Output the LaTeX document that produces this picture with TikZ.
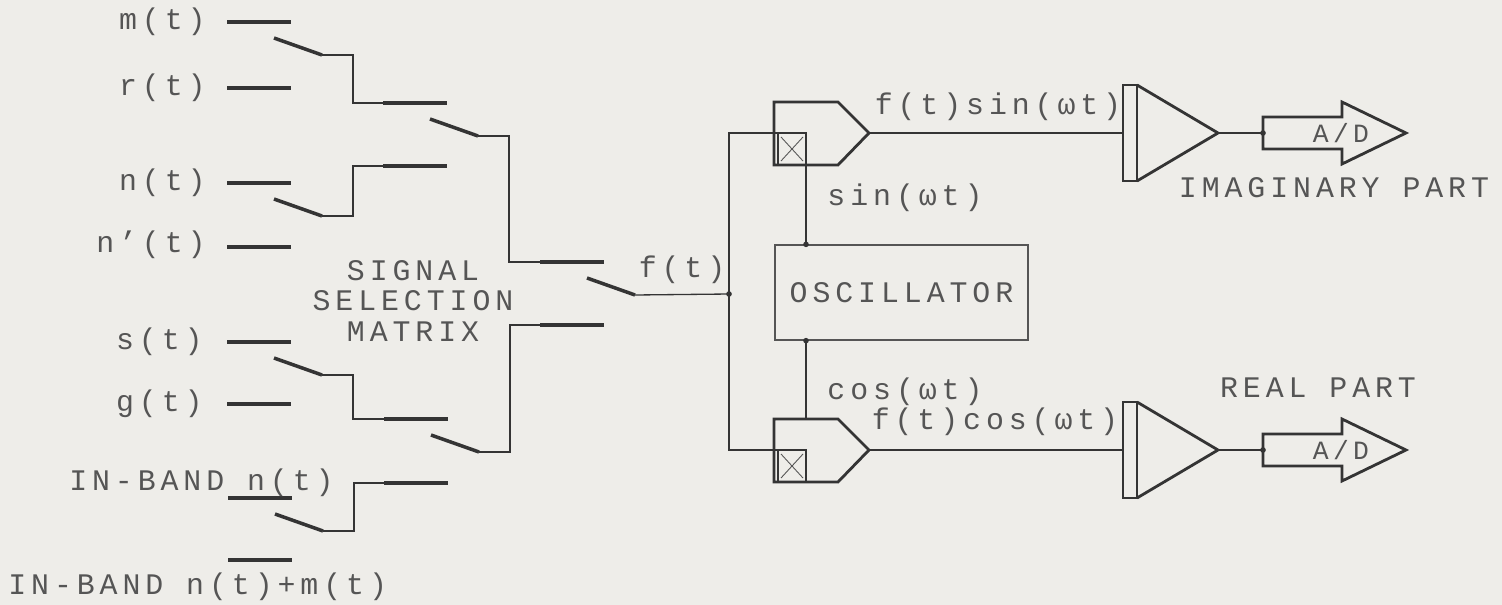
\documentclass[tikz,border=0pt]{standalone}
\usepackage{fontspec}
\usepackage{tikz}
\usetikzlibrary{calc}
\newfontfamily\plotterFont[LetterSpace=16.5]{Liberation Mono}
\definecolor{paperColor}{RGB}{238,237,233}
\definecolor{inkColor}{RGB}{52,52,52}
\definecolor{labelColor}{RGB}{85,85,85}
\tikzstyle{plotter} = [x = 0.02cm, y = -0.02cm]
\tikzstyle{wire} = [color=inkColor, line width=0.75pt]
\tikzstyle{contactLine} = [color=inkColor, line width=2pt]
\tikzstyle{blockLine} = [color=inkColor, line width=1.6pt, line join=miter]
\tikzstyle{crossLine} = [color=labelColor, line width=0.5pt]
\tikzstyle{plotText} = [color=labelColor, inner sep=0pt, font=\plotterFont\fontsize{17}{17.6}\selectfont]
\tikzstyle{junction} = [circle, fill=inkColor, inner sep=0pt, minimum size=3.2pt]
\tikzstyle{oscStyle} = [draw=inkColor, line width=0.75pt, minimum width=5.06cm, minimum height=1.9cm, plotText]
\newcommand{\contact}[3]{\draw [contactLine] (#2, #3) coordinate (#1-w) -- + (64, 0) coordinate (#1-e);}
\newcommand{\blade}[2]{\draw [contactLine] ($(#2-e) + (-17, 16)$) -- + (48, 17) coordinate (#1);}
\newcommand{\mixer}[3]{
  \draw [blockLine] (#2, #3 - 31) -- + (64, 0) -- + (95, 31) -- + (64, 63) -- + (0, 63) -- cycle;
  \draw [wire] (#2 + 4, #3) rectangle + (28, 32);
  \draw [crossLine] (#2 + 7, #3 + 4) -- + (22, 24);
  \draw [crossLine] (#2 + 7, #3 + 28) -- + (22, -24);
  \coordinate (#1 in) at (#2 + 32, #3);
  \coordinate (#1 out) at (#2 + 95, #3);
  \coordinate (#1 top) at (#2 + 32, #3 - 31);
  \coordinate (#1 bottom) at (#2 + 32, #3 + 32);
}
\newcommand{\amplifier}[3]{
  \draw [blockLine] (#2, #3 - 48) rectangle + (14, 96);
  \draw [blockLine] (#2 + 14, #3 - 48) -- (#2 + 95, #3) -- (#2 + 14, #3 + 48);
  \coordinate (#1 in) at (#2, #3);
  \coordinate (#1 out) at (#2 + 95, #3);
}
\newcommand{\converter}[3]{
  \draw [blockLine] (#2, #3 - 16) -- + (79, 0) -- + (79, -15) -- + (143, 16) -- + (79, 47) -- + (79, 32) -- + (0, 32) -- cycle;
  \node [plotText, font=\plotterFont\fontsize{15}{15}\selectfont] (#1 label) at (#2 + 78, #3) {A/D};
  \coordinate (#1 in) at (#2, #3);
}

\begin{document}
\begin{tikzpicture}[plotter]
  \fill [paperColor] (0, 0) rectangle (1502, 605);
  \useasboundingbox (0, 0) rectangle (1502, 605);

  % inputs
  \contact{contactM}{227}{22}
  \contact{contactR}{227}{88}
  \contact{contactN}{227}{183}
  \contact{contactNp}{227}{247}
  \contact{contactS}{227}{342}
  \contact{contactG}{227}{404}
  \contact{contactIb}{228}{498}
  \contact{contactIbm}{228}{560}
  \node [plotText, anchor=east] (labelM) at (206, 22) {m(t)};
  \node [plotText, anchor=east] (labelR) at (206, 88) {r(t)};
  \node [plotText, anchor=east] (labelN) at (206, 183) {n(t)};
  \node [plotText, anchor=east] (labelNp) at (206, 245) {n’(t)};
  \node [plotText, anchor=east] (labelS) at (203, 342) {s(t)};
  \node [plotText, anchor=east] (labelG) at (203, 404) {g(t)};
  \node [plotText, anchor=east] (labelIb) at (334, 483) {IN-BAND n(t)};
  \node [plotText, anchor=west] (labelIbm) at (8, 587) {IN-BAND n(t)+m(t)};

  % selection matrix
  \contact{contactE}{383}{103}
  \contact{contactF}{383}{166}
  \contact{contactH}{384}{419}
  \contact{contactK}{384}{483}
  \contact{contactP}{540}{262}
  \contact{contactQ}{540}{325}
  \blade{bladeA}{contactM}
  \blade{bladeB}{contactN}
  \blade{bladeC}{contactS}
  \blade{bladeD}{contactIb}
  \blade{bladeE}{contactE}
  \blade{bladeF}{contactH}
  \blade{bladeG}{contactP}
  \draw [wire] (bladeA) -- ++ (31, 0) |- (contactE-w);
  \draw [wire] (bladeB) -- ++ (31, 0) |- (contactF-w);
  \draw [wire] (bladeC) -- ++ (31, 0) |- (contactH-w);
  \draw [wire] (bladeD) -- ++ (31, 0) |- (contactK-w);
  \draw [wire] (bladeE) -- ++ (31, 0) |- (contactP-w);
  \draw [wire] (bladeF) -- ++ (31, 0) |- (contactQ-w);
  \node [plotText, align=center] (labelMatrix) at (413, 301) {SIGNAL\\SELECTION\\MATRIX};

  % quadrature part
  \mixer{mixImag}{774}{133}
  \mixer{mixReal}{774}{450}
  \node [oscStyle] (osc) at (901.5, 292.5) {OSCILLATOR};
  \coordinate (fJoin) at (729, 294);
  \draw [wire] (bladeG) -- (fJoin);
  \draw [wire] (mixImag in) -| (fJoin) |- (mixReal in);
  \node [junction] (dotF) at (fJoin) {};
  \draw [wire] (mixImag bottom) -- (mixImag bottom |- osc.north) node [junction] (dotSin) {};
  \draw [wire] (mixReal top) -- (mixReal top |- osc.south) node [junction] (dotCos) {};
  \node [plotText] (labelF) at (682, 270) {f(t)};
  \node [plotText] (labelSin) at (905, 198) {sin(ωt)};
  \node [plotText] (labelCos) at (905, 392) {cos(ωt)};

  \amplifier{ampImag}{1123}{133}
  \amplifier{ampReal}{1123}{450}
  \converter{adImag}{1263}{133}
  \converter{adReal}{1263}{450}
  \draw [wire] (mixImag out) -- (ampImag in);
  \draw [wire] (mixReal out) -- (ampReal in);
  \draw [wire] (ampImag out) -- (adImag in) node [junction] (dotImag) {};
  \draw [wire] (ampReal out) -- (adReal in) node [junction] (dotReal) {};
  \node [plotText] (labelFsin) at (998, 107) {f(t)sin(ωt)};
  \node [plotText] (labelFcos) at (995, 422) {f(t)cos(ωt)};
  \node [plotText] (labelImag) at (1334, 188) {IMAGINARY PART};
  \node [plotText] (labelReal) at (1318, 388) {REAL PART};
\end{tikzpicture}
\end{document}
